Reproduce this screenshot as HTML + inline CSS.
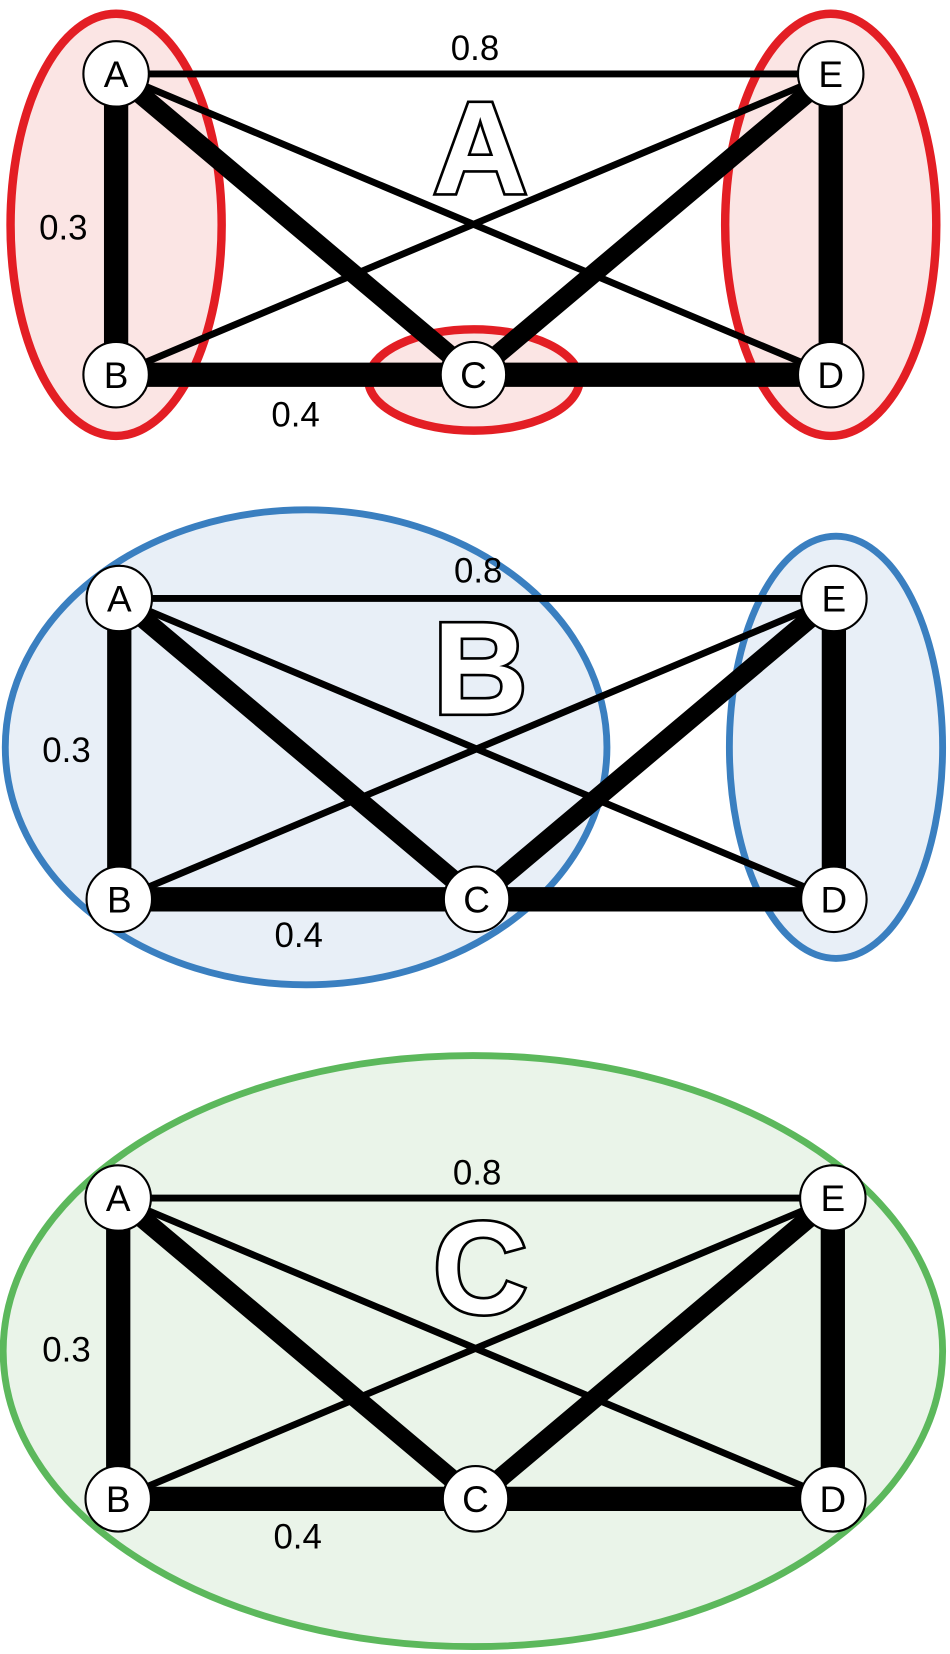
<!DOCTYPE html>
<html><head><meta charset="utf-8"><style>
html,body{margin:0;padding:0;background:#fff;}
svg{display:block;}
text{font-family:"Liberation Sans",sans-serif;}
</style></head><body>
<svg id="chart" width="950" height="1654" viewBox="0 0 900 1567" preserveAspectRatio="none" xmlns="http://www.w3.org/2000/svg"></svg>
<script>
const nodeNames = ["A","B","C","D","E"];
const nodeX = [0, 0, 0.5, 1, 1];
const nodeY = [0, 1, 1, 1, 0];
const edgeFrom = ["A","A","A","A","B","B","C","C","D"];
const edgeTo   = ["E","B","C","D","E","C","D","E","E"];
const edgeWeight = [0.8, 0.3, 0.5, 0.9, 0.9, 0.4, 0.4, 0.5, 0.3];
const edgeLabels = ["0.8","0.3","0.4"];
const panelTitles = ["A","B","C"];
const panels = [
  {ox:110, oy:70, color:"#e31e24", fill:"#fbe5e4", sw:8,
   clusters:[[110,213,100,200],[787,213,100,200],[449,360,100,48]],
   title:[455,183], lab:[[450,57],[60,227],[280,404]]},
  {ox:113, oy:567, color:"#3a7fc0", fill:"#e8eff7", sw:6.5,
   clusters:[[290,708,285,225],[792,708,101,200]],
   title:[455,676], lab:[[453,552],[63,722],[283,897]]},
  {ox:112, oy:1135, color:"#5cb85c", fill:"#eaf4e9", sw:6.5,
   clusters:[[448,1280,445,280]],
   title:[455,1244], lab:[[452,1122],[63,1290],[282,1467]]}
];
const W = 677, H = 285;
const svg = document.getElementById('chart');
const NS = "http://www.w3.org/2000/svg";
function mk(t, a){const e=document.createElementNS(NS,t);for(const k in a)e.setAttribute(k,a[k]);svg.appendChild(e);return e;}
function widthOf(w){ return w >= 0.8 ? 6.5 : (w <= 0.4 ? 23 : 18); }
panels.forEach((p, pi) => {
  p.clusters.forEach((c, ci) => {
    const el = mk('ellipse',{cx:c[0],cy:c[1],rx:c[2],ry:c[3],fill:p.fill,stroke:p.color,'stroke-width':p.sw});
    
    
  });
  const px = i => p.ox + nodeX[i]*W, py = i => p.oy + nodeY[i]*H;
  edgeFrom.forEach((f, i) => {
    const t = edgeTo[i];
    const a = nodeNames.indexOf(f), b = nodeNames.indexOf(t);
    const ln = mk('line',{x1:px(a),y1:py(a),x2:px(b),y2:py(b),stroke:'#000','stroke-width':widthOf(edgeWeight[i])});
    
    
  });
  nodeNames.forEach((n, i) => {
    const c = mk('circle',{cx:px(i),cy:py(i),r:31,fill:'#fff',stroke:'#000','stroke-width':2});
    
    
    const t = mk('text',{x:px(i),y:py(i)+12.5,'text-anchor':'middle','font-size':35,fill:'#000'});
    t.textContent = n;
    
    
  });
  edgeLabels.forEach((l, li) => {
    const t = mk('text',{x:p.lab[li][0],y:p.lab[li][1],'text-anchor':'middle','font-size':33,fill:'#000'});
    t.textContent = l;
    
    
  });
  const tt = mk('text',{x:p.title[0],y:p.title[1],'text-anchor':'middle','font-size':124,'font-weight':'bold',fill:'#fff',stroke:'#000','stroke-width':5,'paint-order':'stroke','stroke-linejoin':'miter'});
  tt.textContent = panelTitles[pi];
  
  
});
</script>
</body></html>
